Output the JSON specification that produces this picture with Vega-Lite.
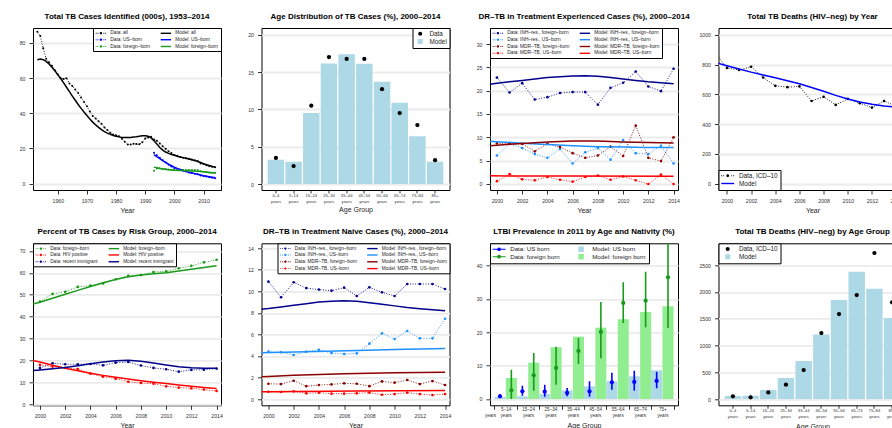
{
"$schema": "https://vega.github.io/schema/vega-lite/v6.json",
"background": "white",
"padding": {"left": 18, "top": 12, "right": 0, "bottom": 0},
"bounds": "flush",
"columns": 4,
"spacing": {"row": 53.3, "column": 40.5},
"resolve": {"scale": {"color": "independent"}, "legend": {"color": "independent"}},
"config": {
 "font": "Liberation Sans",
 "view": {"stroke": "black", "strokeWidth": 1},
 "axis": {"domain": false, "grid": false, "tickColor": "black", "tickSize": 4, "tickWidth": 0.8, "labelFont": "Liberation Sans", "labelFontSize": 5.2, "labelColor": "#333", "labelPadding": 4, "titleFont": "Liberation Sans", "titleFontSize": 7, "titleFontWeight": "normal", "titleColor": "#222", "titlePadding": 3, "labelFlush": false, "labelOverlap": false},
 "axisY": {"grid": true, "gridColor": "#ebebeb", "gridWidth": 1.8, "labelAngle": 0},
 "title": {"font": "Liberation Sans", "fontSize": 8, "fontWeight": "bold", "color": "black", "anchor": "middle", "frame": "group", "offset": 7},
 "legend": {"labelFont": "Liberation Sans", "labelColor": "#222", "strokeColor": "black", "fillColor": "white", "offset": 0, "padding": 2.5, "symbolStrokeWidth": 0, "rowPadding": 0.8, "columnPadding": 10, "labelLimit": 200}
},
"datasets": {
 "d1": [
  {"year":1953,"value":86.4,"series":"Data: all"},{"year":1954,"value":84.0,"series":"Data: all"},{"year":1955,"value":77.0,"series":"Data: all"},{"year":1956,"value":71.0,"series":"Data: all"},{"year":1957,"value":69.0,"series":"Data: all"},{"year":1958,"value":67.0,"series":"Data: all"},{"year":1959,"value":64.5,"series":"Data: all"},{"year":1960,"value":62.0,"series":"Data: all"},{"year":1961,"value":60.0,"series":"Data: all"},{"year":1962,"value":59.5,"series":"Data: all"},{"year":1963,"value":60.0,"series":"Data: all"},{"year":1964,"value":57.0,"series":"Data: all"},{"year":1965,"value":55.5,"series":"Data: all"},{"year":1966,"value":53.5,"series":"Data: all"},{"year":1967,"value":51.5,"series":"Data: all"},{"year":1968,"value":49.0,"series":"Data: all"},{"year":1969,"value":46.5,"series":"Data: all"},{"year":1970,"value":44.0,"series":"Data: all"},{"year":1971,"value":41.0,"series":"Data: all"},{"year":1972,"value":38.5,"series":"Data: all"},{"year":1973,"value":37.0,"series":"Data: all"},{"year":1974,"value":35.5,"series":"Data: all"},{"year":1975,"value":34.0,"series":"Data: all"},{"year":1976,"value":32.0,"series":"Data: all"},{"year":1977,"value":30.5,"series":"Data: all"},{"year":1978,"value":29.0,"series":"Data: all"},{"year":1979,"value":28.0,"series":"Data: all"},{"year":1980,"value":27.5,"series":"Data: all"},{"year":1981,"value":27.0,"series":"Data: all"},{"year":1982,"value":25.5,"series":"Data: all"},{"year":1983,"value":23.8,"series":"Data: all"},{"year":1984,"value":22.3,"series":"Data: all"},{"year":1985,"value":22.2,"series":"Data: all"},{"year":1986,"value":22.7,"series":"Data: all"},{"year":1987,"value":22.5,"series":"Data: all"},{"year":1988,"value":22.4,"series":"Data: all"},{"year":1989,"value":23.5,"series":"Data: all"},{"year":1990,"value":25.7,"series":"Data: all"},{"year":1991,"value":26.3,"series":"Data: all"},{"year":1992,"value":26.7,"series":"Data: all"},{"year":1993,"value":25.1,"series":"Data: all"},{"year":1994,"value":24.4,"series":"Data: all"},{"year":1995,"value":22.9,"series":"Data: all"},{"year":1996,"value":21.3,"series":"Data: all"},{"year":1997,"value":19.9,"series":"Data: all"},{"year":1998,"value":18.4,"series":"Data: all"},{"year":1999,"value":17.5,"series":"Data: all"},{"year":2000,"value":16.3,"series":"Data: all"},{"year":2001,"value":15.9,"series":"Data: all"},{"year":2002,"value":15.1,"series":"Data: all"},{"year":2003,"value":14.8,"series":"Data: all"},{"year":2004,"value":14.5,"series":"Data: all"},{"year":2005,"value":14.1,"series":"Data: all"},{"year":2006,"value":13.7,"series":"Data: all"},{"year":2007,"value":13.3,"series":"Data: all"},{"year":2008,"value":12.9,"series":"Data: all"},{"year":2009,"value":11.5,"series":"Data: all"},{"year":2010,"value":11.2,"series":"Data: all"},{"year":2011,"value":10.5,"series":"Data: all"},{"year":2012,"value":9.9,"series":"Data: all"},{"year":2013,"value":9.6,"series":"Data: all"},{"year":2014,"value":9.4,"series":"Data: all"},
  {"year":1953,"value":70.5,"series":"Model: all"},{"year":1954,"value":70.8,"series":"Model: all"},{"year":1955,"value":70.5,"series":"Model: all"},{"year":1956,"value":69.5,"series":"Model: all"},{"year":1957,"value":68.0,"series":"Model: all"},{"year":1958,"value":66.2,"series":"Model: all"},{"year":1959,"value":64.2,"series":"Model: all"},{"year":1960,"value":62.0,"series":"Model: all"},{"year":1961,"value":59.8,"series":"Model: all"},{"year":1962,"value":57.3,"series":"Model: all"},{"year":1963,"value":54.8,"series":"Model: all"},{"year":1964,"value":52.3,"series":"Model: all"},{"year":1965,"value":49.8,"series":"Model: all"},{"year":1966,"value":47.4,"series":"Model: all"},{"year":1967,"value":45.0,"series":"Model: all"},{"year":1968,"value":42.8,"series":"Model: all"},{"year":1969,"value":40.7,"series":"Model: all"},{"year":1970,"value":38.7,"series":"Model: all"},{"year":1971,"value":36.8,"series":"Model: all"},{"year":1972,"value":35.0,"series":"Model: all"},{"year":1973,"value":33.4,"series":"Model: all"},{"year":1974,"value":32.0,"series":"Model: all"},{"year":1975,"value":30.7,"series":"Model: all"},{"year":1976,"value":29.6,"series":"Model: all"},{"year":1977,"value":28.7,"series":"Model: all"},{"year":1978,"value":28.0,"series":"Model: all"},{"year":1979,"value":27.4,"series":"Model: all"},{"year":1980,"value":27.0,"series":"Model: all"},{"year":1981,"value":26.6,"series":"Model: all"},{"year":1982,"value":26.3,"series":"Model: all"},{"year":1983,"value":26.2,"series":"Model: all"},{"year":1984,"value":26.2,"series":"Model: all"},{"year":1985,"value":26.3,"series":"Model: all"},{"year":1986,"value":26.5,"series":"Model: all"},{"year":1987,"value":26.7,"series":"Model: all"},{"year":1988,"value":27.0,"series":"Model: all"},{"year":1989,"value":27.2,"series":"Model: all"},{"year":1990,"value":27.3,"series":"Model: all"},{"year":1991,"value":27.0,"series":"Model: all"},{"year":1992,"value":26.0,"series":"Model: all"},{"year":1993,"value":24.4,"series":"Model: all"},{"year":1994,"value":22.5,"series":"Model: all"},{"year":1995,"value":20.6,"series":"Model: all"},{"year":1996,"value":19.1,"series":"Model: all"},{"year":1997,"value":18.0,"series":"Model: all"},{"year":1998,"value":17.2,"series":"Model: all"},{"year":1999,"value":16.6,"series":"Model: all"},{"year":2000,"value":16.1,"series":"Model: all"},{"year":2001,"value":15.6,"series":"Model: all"},{"year":2002,"value":15.2,"series":"Model: all"},{"year":2003,"value":14.8,"series":"Model: all"},{"year":2004,"value":14.4,"series":"Model: all"},{"year":2005,"value":14.0,"series":"Model: all"},{"year":2006,"value":13.6,"series":"Model: all"},{"year":2007,"value":13.1,"series":"Model: all"},{"year":2008,"value":12.6,"series":"Model: all"},{"year":2009,"value":12.0,"series":"Model: all"},{"year":2010,"value":11.4,"series":"Model: all"},{"year":2011,"value":10.8,"series":"Model: all"},{"year":2012,"value":10.3,"series":"Model: all"},{"year":2013,"value":9.8,"series":"Model: all"},{"year":2014,"value":9.4,"series":"Model: all"},
  {"year":1993,"value":17.6,"series":"Data: US–born"},{"year":1994,"value":16.2,"series":"Data: US–born"},{"year":1995,"value":14.7,"series":"Data: US–born"},{"year":1996,"value":13.3,"series":"Data: US–born"},{"year":1997,"value":12.0,"series":"Data: US–born"},{"year":1998,"value":10.8,"series":"Data: US–born"},{"year":1999,"value":9.7,"series":"Data: US–born"},{"year":2000,"value":8.8,"series":"Data: US–born"},{"year":2001,"value":8.3,"series":"Data: US–born"},{"year":2002,"value":7.7,"series":"Data: US–born"},{"year":2003,"value":7.3,"series":"Data: US–born"},{"year":2004,"value":6.9,"series":"Data: US–born"},{"year":2005,"value":6.4,"series":"Data: US–born"},{"year":2006,"value":6.0,"series":"Data: US–born"},{"year":2007,"value":5.6,"series":"Data: US–born"},{"year":2008,"value":5.3,"series":"Data: US–born"},{"year":2009,"value":4.7,"series":"Data: US–born"},{"year":2010,"value":4.4,"series":"Data: US–born"},{"year":2011,"value":4.1,"series":"Data: US–born"},{"year":2012,"value":3.7,"series":"Data: US–born"},{"year":2013,"value":3.4,"series":"Data: US–born"},{"year":2014,"value":3.1,"series":"Data: US–born"},
  {"year":1993,"value":16.5,"series":"Model: US–born"},{"year":1994,"value":15.3,"series":"Model: US–born"},{"year":1995,"value":14.2,"series":"Model: US–born"},{"year":1996,"value":13.1,"series":"Model: US–born"},{"year":1997,"value":12.1,"series":"Model: US–born"},{"year":1998,"value":11.1,"series":"Model: US–born"},{"year":1999,"value":10.2,"series":"Model: US–born"},{"year":2000,"value":9.4,"series":"Model: US–born"},{"year":2001,"value":8.7,"series":"Model: US–born"},{"year":2002,"value":8.1,"series":"Model: US–born"},{"year":2003,"value":7.5,"series":"Model: US–born"},{"year":2004,"value":7.0,"series":"Model: US–born"},{"year":2005,"value":6.5,"series":"Model: US–born"},{"year":2006,"value":6.1,"series":"Model: US–born"},{"year":2007,"value":5.7,"series":"Model: US–born"},{"year":2008,"value":5.3,"series":"Model: US–born"},{"year":2009,"value":4.9,"series":"Model: US–born"},{"year":2010,"value":4.5,"series":"Model: US–born"},{"year":2011,"value":4.2,"series":"Model: US–born"},{"year":2012,"value":3.9,"series":"Model: US–born"},{"year":2013,"value":3.6,"series":"Model: US–born"},{"year":2014,"value":3.3,"series":"Model: US–born"},
  {"year":1993,"value":7.4,"series":"Data: foreign–born"},{"year":1994,"value":8.6,"series":"Data: foreign–born"},{"year":1995,"value":8.7,"series":"Data: foreign–born"},{"year":1996,"value":8.5,"series":"Data: foreign–born"},{"year":1997,"value":8.3,"series":"Data: foreign–born"},{"year":1998,"value":8.0,"series":"Data: foreign–born"},{"year":1999,"value":7.9,"series":"Data: foreign–born"},{"year":2000,"value":7.8,"series":"Data: foreign–born"},{"year":2001,"value":7.8,"series":"Data: foreign–born"},{"year":2002,"value":7.6,"series":"Data: foreign–born"},{"year":2003,"value":7.7,"series":"Data: foreign–born"},{"year":2004,"value":7.7,"series":"Data: foreign–born"},{"year":2005,"value":7.8,"series":"Data: foreign–born"},{"year":2006,"value":7.8,"series":"Data: foreign–born"},{"year":2007,"value":7.7,"series":"Data: foreign–born"},{"year":2008,"value":7.6,"series":"Data: foreign–born"},{"year":2009,"value":7.0,"series":"Data: foreign–born"},{"year":2010,"value":6.8,"series":"Data: foreign–born"},{"year":2011,"value":6.6,"series":"Data: foreign–born"},{"year":2012,"value":6.3,"series":"Data: foreign–born"},{"year":2013,"value":6.2,"series":"Data: foreign–born"},{"year":2014,"value":6.2,"series":"Data: foreign–born"},
  {"year":1993,"value":9.4,"series":"Model: foreign–born"},{"year":1994,"value":9.0,"series":"Model: foreign–born"},{"year":1995,"value":8.6,"series":"Model: foreign–born"},{"year":1996,"value":8.3,"series":"Model: foreign–born"},{"year":1997,"value":8.1,"series":"Model: foreign–born"},{"year":1998,"value":7.9,"series":"Model: foreign–born"},{"year":1999,"value":7.8,"series":"Model: foreign–born"},{"year":2000,"value":7.6,"series":"Model: foreign–born"},{"year":2002,"value":7.45,"series":"Model: foreign–born"},{"year":2004,"value":7.35,"series":"Model: foreign–born"},{"year":2006,"value":7.25,"series":"Model: foreign–born"},{"year":2008,"value":7.05,"series":"Model: foreign–born"},{"year":2010,"value":6.75,"series":"Model: foreign–born"},{"year":2012,"value":6.4,"series":"Model: foreign–born"},{"year":2014,"value":6.1,"series":"Model: foreign–born"}
 ],
 "d2": [
  {"age":"0–4","model":3.26,"data":3.5},{"age":"5–14","model":3.0,"data":2.4},{"age":"15–24","model":9.5,"data":10.5},{"age":"25–34","model":16.15,"data":17.0},{"age":"35–44","model":17.4,"data":16.75},{"age":"45–54","model":16.1,"data":16.75},{"age":"55–64","model":13.7,"data":12.7},{"age":"65–74","model":10.9,"data":9.5},{"age":"75–84","model":6.4,"data":7.9},{"age":"85+","model":3.0,"data":3.2}
 ],
 "d3": [
  {"year":2000,"value":22.8,"series":"Data: INH–res., foreign–born"},{"year":2001,"value":19.6,"series":"Data: INH–res., foreign–born"},{"year":2002,"value":21.6,"series":"Data: INH–res., foreign–born"},{"year":2003,"value":18.1,"series":"Data: INH–res., foreign–born"},{"year":2004,"value":18.6,"series":"Data: INH–res., foreign–born"},{"year":2005,"value":19.5,"series":"Data: INH–res., foreign–born"},{"year":2006,"value":19.7,"series":"Data: INH–res., foreign–born"},{"year":2007,"value":19.7,"series":"Data: INH–res., foreign–born"},{"year":2008,"value":17.0,"series":"Data: INH–res., foreign–born"},{"year":2009,"value":20.6,"series":"Data: INH–res., foreign–born"},{"year":2010,"value":21.7,"series":"Data: INH–res., foreign–born"},{"year":2011,"value":24.1,"series":"Data: INH–res., foreign–born"},{"year":2012,"value":20.9,"series":"Data: INH–res., foreign–born"},{"year":2013,"value":19.9,"series":"Data: INH–res., foreign–born"},{"year":2014,"value":24.7,"series":"Data: INH–res., foreign–born"},
  {"year":2000,"value":6.1,"series":"Data: INH–res., US–born"},{"year":2001,"value":8.6,"series":"Data: INH–res., US–born"},{"year":2002,"value":7.7,"series":"Data: INH–res., US–born"},{"year":2003,"value":6.4,"series":"Data: INH–res., US–born"},{"year":2004,"value":5.6,"series":"Data: INH–res., US–born"},{"year":2005,"value":7.5,"series":"Data: INH–res., US–born"},{"year":2006,"value":4.4,"series":"Data: INH–res., US–born"},{"year":2007,"value":6.8,"series":"Data: INH–res., US–born"},{"year":2008,"value":7.7,"series":"Data: INH–res., US–born"},{"year":2009,"value":5.2,"series":"Data: INH–res., US–born"},{"year":2010,"value":9.4,"series":"Data: INH–res., US–born"},{"year":2011,"value":6.6,"series":"Data: INH–res., US–born"},{"year":2012,"value":6.4,"series":"Data: INH–res., US–born"},{"year":2013,"value":8.2,"series":"Data: INH–res., US–born"},{"year":2014,"value":4.4,"series":"Data: INH–res., US–born"},
  {"year":2000,"value":8.7,"series":"Data: MDR–TB, foreign–born"},{"year":2001,"value":8.6,"series":"Data: MDR–TB, foreign–born"},{"year":2002,"value":8.6,"series":"Data: MDR–TB, foreign–born"},{"year":2003,"value":7.0,"series":"Data: MDR–TB, foreign–born"},{"year":2004,"value":8.6,"series":"Data: MDR–TB, foreign–born"},{"year":2005,"value":7.9,"series":"Data: MDR–TB, foreign–born"},{"year":2006,"value":6.6,"series":"Data: MDR–TB, foreign–born"},{"year":2007,"value":5.6,"series":"Data: MDR–TB, foreign–born"},{"year":2008,"value":6.1,"series":"Data: MDR–TB, foreign–born"},{"year":2009,"value":8.0,"series":"Data: MDR–TB, foreign–born"},{"year":2010,"value":6.0,"series":"Data: MDR–TB, foreign–born"},{"year":2011,"value":12.5,"series":"Data: MDR–TB, foreign–born"},{"year":2012,"value":5.6,"series":"Data: MDR–TB, foreign–born"},{"year":2013,"value":4.9,"series":"Data: MDR–TB, foreign–born"},{"year":2014,"value":10.0,"series":"Data: MDR–TB, foreign–born"},
  {"year":2000,"value":0.6,"series":"Data: MDR–TB, US–born"},{"year":2001,"value":2.1,"series":"Data: MDR–TB, US–born"},{"year":2002,"value":1.0,"series":"Data: MDR–TB, US–born"},{"year":2003,"value":0.8,"series":"Data: MDR–TB, US–born"},{"year":2004,"value":1.5,"series":"Data: MDR–TB, US–born"},{"year":2005,"value":0.9,"series":"Data: MDR–TB, US–born"},{"year":2006,"value":0.5,"series":"Data: MDR–TB, US–born"},{"year":2007,"value":1.5,"series":"Data: MDR–TB, US–born"},{"year":2008,"value":1.8,"series":"Data: MDR–TB, US–born"},{"year":2009,"value":0.9,"series":"Data: MDR–TB, US–born"},{"year":2010,"value":1.6,"series":"Data: MDR–TB, US–born"},{"year":2011,"value":0.8,"series":"Data: MDR–TB, US–born"},{"year":2012,"value":0.0,"series":"Data: MDR–TB, US–born"},{"year":2013,"value":2.0,"series":"Data: MDR–TB, US–born"},{"year":2014,"value":0.0,"series":"Data: MDR–TB, US–born"},
  {"year":1999,"value":21.2,"series":"Model: INH–res., foreign–born"},{"year":2000,"value":21.6,"series":"Model: INH–res., foreign–born"},{"year":2001,"value":21.9,"series":"Model: INH–res., foreign–born"},{"year":2002,"value":22.2,"series":"Model: INH–res., foreign–born"},{"year":2003,"value":22.5,"series":"Model: INH–res., foreign–born"},{"year":2004,"value":22.8,"series":"Model: INH–res., foreign–born"},{"year":2005,"value":23.0,"series":"Model: INH–res., foreign–born"},{"year":2006,"value":23.15,"series":"Model: INH–res., foreign–born"},{"year":2007,"value":23.2,"series":"Model: INH–res., foreign–born"},{"year":2008,"value":23.1,"series":"Model: INH–res., foreign–born"},{"year":2009,"value":22.8,"series":"Model: INH–res., foreign–born"},{"year":2010,"value":22.5,"series":"Model: INH–res., foreign–born"},{"year":2011,"value":22.2,"series":"Model: INH–res., foreign–born"},{"year":2012,"value":21.9,"series":"Model: INH–res., foreign–born"},{"year":2013,"value":21.7,"series":"Model: INH–res., foreign–born"},{"year":2014,"value":21.5,"series":"Model: INH–res., foreign–born"},
  {"year":1999,"value":9.2,"series":"Model: INH–res., US–born"},{"year":2000,"value":9.05,"series":"Model: INH–res., US–born"},{"year":2002,"value":8.75,"series":"Model: INH–res., US–born"},{"year":2004,"value":8.45,"series":"Model: INH–res., US–born"},{"year":2006,"value":8.2,"series":"Model: INH–res., US–born"},{"year":2008,"value":8.0,"series":"Model: INH–res., US–born"},{"year":2010,"value":7.9,"series":"Model: INH–res., US–born"},{"year":2012,"value":7.8,"series":"Model: INH–res., US–born"},{"year":2014,"value":7.8,"series":"Model: INH–res., US–born"},
  {"year":1999,"value":8.1,"series":"Model: MDR–TB, foreign–born"},{"year":2000,"value":8.3,"series":"Model: MDR–TB, foreign–born"},{"year":2001,"value":8.5,"series":"Model: MDR–TB, foreign–born"},{"year":2002,"value":8.7,"series":"Model: MDR–TB, foreign–born"},{"year":2003,"value":8.85,"series":"Model: MDR–TB, foreign–born"},{"year":2004,"value":9.0,"series":"Model: MDR–TB, foreign–born"},{"year":2005,"value":9.1,"series":"Model: MDR–TB, foreign–born"},{"year":2006,"value":9.2,"series":"Model: MDR–TB, foreign–born"},{"year":2007,"value":9.2,"series":"Model: MDR–TB, foreign–born"},{"year":2008,"value":9.2,"series":"Model: MDR–TB, foreign–born"},{"year":2009,"value":9.1,"series":"Model: MDR–TB, foreign–born"},{"year":2010,"value":9.0,"series":"Model: MDR–TB, foreign–born"},{"year":2011,"value":8.95,"series":"Model: MDR–TB, foreign–born"},{"year":2012,"value":8.9,"series":"Model: MDR–TB, foreign–born"},{"year":2013,"value":8.85,"series":"Model: MDR–TB, foreign–born"},{"year":2014,"value":8.8,"series":"Model: MDR–TB, foreign–born"},
  {"year":1999,"value":1.75,"series":"Model: MDR–TB, US–born"},{"year":2006,"value":1.7,"series":"Model: MDR–TB, US–born"},{"year":2014,"value":1.65,"series":"Model: MDR–TB, US–born"}
 ],
 "d4": [
  {"year":1999,"value":880,"series":"Data, ICD–10"},{"year":2000,"value":777,"series":"Data, ICD–10"},{"year":2001,"value":763,"series":"Data, ICD–10"},{"year":2002,"value":785,"series":"Data, ICD–10"},{"year":2003,"value":713,"series":"Data, ICD–10"},{"year":2004,"value":657,"series":"Data, ICD–10"},{"year":2005,"value":648,"series":"Data, ICD–10"},{"year":2006,"value":653,"series":"Data, ICD–10"},{"year":2007,"value":555,"series":"Data, ICD–10"},{"year":2008,"value":584,"series":"Data, ICD–10"},{"year":2009,"value":529,"series":"Data, ICD–10"},{"year":2010,"value":569,"series":"Data, ICD–10"},{"year":2011,"value":540,"series":"Data, ICD–10"},{"year":2012,"value":511,"series":"Data, ICD–10"},{"year":2013,"value":555,"series":"Data, ICD–10"},{"year":2014,"value":520,"series":"Data, ICD–10"},
  {"year":1999,"value":815,"series":"Model"},{"year":2000,"value":792,"series":"Model"},{"year":2001,"value":770,"series":"Model"},{"year":2002,"value":749,"series":"Model"},{"year":2003,"value":730,"series":"Model"},{"year":2004,"value":711,"series":"Model"},{"year":2005,"value":691,"series":"Model"},{"year":2006,"value":671,"series":"Model"},{"year":2007,"value":646,"series":"Model"},{"year":2008,"value":620,"series":"Model"},{"year":2009,"value":593,"series":"Model"},{"year":2010,"value":569,"series":"Model"},{"year":2011,"value":549,"series":"Model"},{"year":2012,"value":533,"series":"Model"},{"year":2013,"value":522,"series":"Model"},{"year":2014,"value":515,"series":"Model"}
 ],
 "d5": [
  {"year":2000,"value":46.9,"series":"Data: foreign–born"},{"year":2001,"value":50.4,"series":"Data: foreign–born"},{"year":2002,"value":51.4,"series":"Data: foreign–born"},{"year":2003,"value":53.6,"series":"Data: foreign–born"},{"year":2004,"value":54.2,"series":"Data: foreign–born"},{"year":2005,"value":55.1,"series":"Data: foreign–born"},{"year":2006,"value":57.1,"series":"Data: foreign–born"},{"year":2007,"value":58.6,"series":"Data: foreign–born"},{"year":2008,"value":59.0,"series":"Data: foreign–born"},{"year":2009,"value":60.4,"series":"Data: foreign–born"},{"year":2010,"value":60.7,"series":"Data: foreign–born"},{"year":2011,"value":62.1,"series":"Data: foreign–born"},{"year":2012,"value":63.2,"series":"Data: foreign–born"},{"year":2013,"value":64.8,"series":"Data: foreign–born"},{"year":2014,"value":66.0,"series":"Data: foreign–born"},
  {"year":2000,"value":18.0,"series":"Data: HIV positive"},{"year":2001,"value":17.2,"series":"Data: HIV positive"},{"year":2002,"value":16.7,"series":"Data: HIV positive"},{"year":2003,"value":16.1,"series":"Data: HIV positive"},{"year":2004,"value":14.0,"series":"Data: HIV positive"},{"year":2005,"value":12.6,"series":"Data: HIV positive"},{"year":2006,"value":11.7,"series":"Data: HIV positive"},{"year":2007,"value":10.3,"series":"Data: HIV positive"},{"year":2008,"value":9.7,"series":"Data: HIV positive"},{"year":2009,"value":9.4,"series":"Data: HIV positive"},{"year":2010,"value":8.2,"series":"Data: HIV positive"},{"year":2011,"value":7.6,"series":"Data: HIV positive"},{"year":2012,"value":7.3,"series":"Data: HIV positive"},{"year":2013,"value":6.7,"series":"Data: HIV positive"},{"year":2014,"value":6.1,"series":"Data: HIV positive"},
  {"year":2000,"value":16.6,"series":"Data: recent immigrant"},{"year":2001,"value":18.7,"series":"Data: recent immigrant"},{"year":2002,"value":18.3,"series":"Data: recent immigrant"},{"year":2003,"value":18.3,"series":"Data: recent immigrant"},{"year":2004,"value":18.4,"series":"Data: recent immigrant"},{"year":2005,"value":17.8,"series":"Data: recent immigrant"},{"year":2006,"value":19.0,"series":"Data: recent immigrant"},{"year":2007,"value":19.3,"series":"Data: recent immigrant"},{"year":2008,"value":17.7,"series":"Data: recent immigrant"},{"year":2009,"value":16.6,"series":"Data: recent immigrant"},{"year":2010,"value":16.0,"series":"Data: recent immigrant"},{"year":2011,"value":14.9,"series":"Data: recent immigrant"},{"year":2012,"value":15.7,"series":"Data: recent immigrant"},{"year":2013,"value":15.8,"series":"Data: recent immigrant"},{"year":2014,"value":16.3,"series":"Data: recent immigrant"},
  {"year":1999,"value":45.2,"series":"Model: foreign–born"},{"year":2000,"value":46.6,"series":"Model: foreign–born"},{"year":2001,"value":48.4,"series":"Model: foreign–born"},{"year":2002,"value":50.2,"series":"Model: foreign–born"},{"year":2003,"value":52.0,"series":"Model: foreign–born"},{"year":2004,"value":53.8,"series":"Model: foreign–born"},{"year":2005,"value":55.5,"series":"Model: foreign–born"},{"year":2006,"value":57.0,"series":"Model: foreign–born"},{"year":2007,"value":58.2,"series":"Model: foreign–born"},{"year":2008,"value":59.0,"series":"Model: foreign–born"},{"year":2009,"value":59.6,"series":"Model: foreign–born"},{"year":2010,"value":60.1,"series":"Model: foreign–born"},{"year":2011,"value":60.8,"series":"Model: foreign–born"},{"year":2012,"value":61.6,"series":"Model: foreign–born"},{"year":2013,"value":62.4,"series":"Model: foreign–born"},{"year":2014,"value":63.3,"series":"Model: foreign–born"},
  {"year":1999,"value":20.5,"series":"Model: HIV positive"},{"year":2000,"value":19.3,"series":"Model: HIV positive"},{"year":2001,"value":17.8,"series":"Model: HIV positive"},{"year":2002,"value":16.5,"series":"Model: HIV positive"},{"year":2003,"value":15.3,"series":"Model: HIV positive"},{"year":2004,"value":14.2,"series":"Model: HIV positive"},{"year":2005,"value":13.2,"series":"Model: HIV positive"},{"year":2006,"value":12.3,"series":"Model: HIV positive"},{"year":2007,"value":11.5,"series":"Model: HIV positive"},{"year":2008,"value":10.8,"series":"Model: HIV positive"},{"year":2009,"value":10.1,"series":"Model: HIV positive"},{"year":2010,"value":9.5,"series":"Model: HIV positive"},{"year":2011,"value":8.8,"series":"Model: HIV positive"},{"year":2012,"value":8.2,"series":"Model: HIV positive"},{"year":2013,"value":7.7,"series":"Model: HIV positive"},{"year":2014,"value":7.2,"series":"Model: HIV positive"},
  {"year":1999,"value":15.3,"series":"Model: recent immigrant"},{"year":2000,"value":15.7,"series":"Model: recent immigrant"},{"year":2001,"value":16.2,"series":"Model: recent immigrant"},{"year":2002,"value":16.8,"series":"Model: recent immigrant"},{"year":2003,"value":17.6,"series":"Model: recent immigrant"},{"year":2004,"value":18.5,"series":"Model: recent immigrant"},{"year":2005,"value":19.3,"series":"Model: recent immigrant"},{"year":2006,"value":19.9,"series":"Model: recent immigrant"},{"year":2007,"value":20.1,"series":"Model: recent immigrant"},{"year":2008,"value":19.6,"series":"Model: recent immigrant"},{"year":2009,"value":18.8,"series":"Model: recent immigrant"},{"year":2010,"value":17.9,"series":"Model: recent immigrant"},{"year":2011,"value":17.1,"series":"Model: recent immigrant"},{"year":2012,"value":16.7,"series":"Model: recent immigrant"},{"year":2013,"value":16.5,"series":"Model: recent immigrant"},{"year":2014,"value":16.4,"series":"Model: recent immigrant"}
 ],
 "d6": [
  {"year":2000,"value":10.9,"series":"Data: INH–res., foreign–born"},{"year":2001,"value":9.45,"series":"Data: INH–res., foreign–born"},{"year":2002,"value":10.84,"series":"Data: INH–res., foreign–born"},{"year":2003,"value":10.3,"series":"Data: INH–res., foreign–born"},{"year":2004,"value":10.16,"series":"Data: INH–res., foreign–born"},{"year":2005,"value":10.06,"series":"Data: INH–res., foreign–born"},{"year":2006,"value":10.34,"series":"Data: INH–res., foreign–born"},{"year":2007,"value":9.57,"series":"Data: INH–res., foreign–born"},{"year":2008,"value":10.37,"series":"Data: INH–res., foreign–born"},{"year":2009,"value":9.91,"series":"Data: INH–res., foreign–born"},{"year":2010,"value":9.57,"series":"Data: INH–res., foreign–born"},{"year":2011,"value":10.68,"series":"Data: INH–res., foreign–born"},{"year":2012,"value":10.68,"series":"Data: INH–res., foreign–born"},{"year":2013,"value":10.68,"series":"Data: INH–res., foreign–born"},{"year":2014,"value":10.22,"series":"Data: INH–res., foreign–born"},
  {"year":2000,"value":4.4,"series":"Data: INH–res., US–born"},{"year":2001,"value":4.34,"series":"Data: INH–res., US–born"},{"year":2002,"value":4.09,"series":"Data: INH–res., US–born"},{"year":2003,"value":4.4,"series":"Data: INH–res., US–born"},{"year":2004,"value":4.58,"series":"Data: INH–res., US–born"},{"year":2005,"value":4.27,"series":"Data: INH–res., US–born"},{"year":2006,"value":4.18,"series":"Data: INH–res., US–born"},{"year":2007,"value":4.24,"series":"Data: INH–res., US–born"},{"year":2008,"value":5.14,"series":"Data: INH–res., US–born"},{"year":2009,"value":6.1,"series":"Data: INH–res., US–born"},{"year":2010,"value":5.57,"series":"Data: INH–res., US–born"},{"year":2011,"value":6.32,"series":"Data: INH–res., US–born"},{"year":2012,"value":5.64,"series":"Data: INH–res., US–born"},{"year":2013,"value":5.64,"series":"Data: INH–res., US–born"},{"year":2014,"value":7.46,"series":"Data: INH–res., US–born"},
  {"year":2000,"value":1.42,"series":"Data: MDR–TB, foreign–born"},{"year":2001,"value":1.39,"series":"Data: MDR–TB, foreign–born"},{"year":2002,"value":1.7,"series":"Data: MDR–TB, foreign–born"},{"year":2003,"value":1.2,"series":"Data: MDR–TB, foreign–born"},{"year":2004,"value":1.3,"series":"Data: MDR–TB, foreign–born"},{"year":2005,"value":1.36,"series":"Data: MDR–TB, foreign–born"},{"year":2006,"value":1.46,"series":"Data: MDR–TB, foreign–born"},{"year":2007,"value":1.42,"series":"Data: MDR–TB, foreign–born"},{"year":2008,"value":1.2,"series":"Data: MDR–TB, foreign–born"},{"year":2009,"value":1.64,"series":"Data: MDR–TB, foreign–born"},{"year":2010,"value":1.52,"series":"Data: MDR–TB, foreign–born"},{"year":2011,"value":1.77,"series":"Data: MDR–TB, foreign–born"},{"year":2012,"value":1.39,"series":"Data: MDR–TB, foreign–born"},{"year":2013,"value":1.67,"series":"Data: MDR–TB, foreign–born"},{"year":2014,"value":1.3,"series":"Data: MDR–TB, foreign–born"},
  {"year":2000,"value":0.68,"series":"Data: MDR–TB, US–born"},{"year":2001,"value":0.65,"series":"Data: MDR–TB, US–born"},{"year":2002,"value":0.71,"series":"Data: MDR–TB, US–born"},{"year":2003,"value":0.53,"series":"Data: MDR–TB, US–born"},{"year":2004,"value":0.59,"series":"Data: MDR–TB, US–born"},{"year":2005,"value":0.5,"series":"Data: MDR–TB, US–born"},{"year":2006,"value":0.5,"series":"Data: MDR–TB, US–born"},{"year":2007,"value":0.53,"series":"Data: MDR–TB, US–born"},{"year":2008,"value":0.59,"series":"Data: MDR–TB, US–born"},{"year":2009,"value":0.4,"series":"Data: MDR–TB, US–born"},{"year":2010,"value":0.46,"series":"Data: MDR–TB, US–born"},{"year":2011,"value":0.59,"series":"Data: MDR–TB, US–born"},{"year":2012,"value":0.46,"series":"Data: MDR–TB, US–born"},{"year":2013,"value":0.37,"series":"Data: MDR–TB, US–born"},{"year":2014,"value":0.46,"series":"Data: MDR–TB, US–born"},
  {"year":1999,"value":8.3,"series":"Model: INH–res., foreign–born"},{"year":2000,"value":8.4,"series":"Model: INH–res., foreign–born"},{"year":2001,"value":8.55,"series":"Model: INH–res., foreign–born"},{"year":2002,"value":8.7,"series":"Model: INH–res., foreign–born"},{"year":2003,"value":8.85,"series":"Model: INH–res., foreign–born"},{"year":2004,"value":9.0,"series":"Model: INH–res., foreign–born"},{"year":2005,"value":9.08,"series":"Model: INH–res., foreign–born"},{"year":2006,"value":9.12,"series":"Model: INH–res., foreign–born"},{"year":2007,"value":9.08,"series":"Model: INH–res., foreign–born"},{"year":2008,"value":8.95,"series":"Model: INH–res., foreign–born"},{"year":2009,"value":8.8,"series":"Model: INH–res., foreign–born"},{"year":2010,"value":8.65,"series":"Model: INH–res., foreign–born"},{"year":2011,"value":8.5,"series":"Model: INH–res., foreign–born"},{"year":2012,"value":8.38,"series":"Model: INH–res., foreign–born"},{"year":2013,"value":8.28,"series":"Model: INH–res., foreign–born"},{"year":2014,"value":8.2,"series":"Model: INH–res., foreign–born"},
  {"year":1999,"value":4.3,"series":"Model: INH–res., US–born"},{"year":2003,"value":4.4,"series":"Model: INH–res., US–born"},{"year":2007,"value":4.5,"series":"Model: INH–res., US–born"},{"year":2010,"value":4.6,"series":"Model: INH–res., US–born"},{"year":2014,"value":4.7,"series":"Model: INH–res., US–born"},
  {"year":1999,"value":2.05,"series":"Model: MDR–TB, foreign–born"},{"year":2000,"value":2.1,"series":"Model: MDR–TB, foreign–born"},{"year":2002,"value":2.2,"series":"Model: MDR–TB, foreign–born"},{"year":2004,"value":2.28,"series":"Model: MDR–TB, foreign–born"},{"year":2006,"value":2.35,"series":"Model: MDR–TB, foreign–born"},{"year":2008,"value":2.4,"series":"Model: MDR–TB, foreign–born"},{"year":2010,"value":2.44,"series":"Model: MDR–TB, foreign–born"},{"year":2012,"value":2.47,"series":"Model: MDR–TB, foreign–born"},{"year":2014,"value":2.48,"series":"Model: MDR–TB, foreign–born"},
  {"year":1999,"value":0.67,"series":"Model: MDR–TB, US–born"},{"year":2000,"value":0.68,"series":"Model: MDR–TB, US–born"},{"year":2007,"value":0.75,"series":"Model: MDR–TB, US–born"},{"year":2014,"value":0.8,"series":"Model: MDR–TB, US–born"}
 ],
 "d7": [
  {"age":"5–14","nat":"US born","mseries":"Model: US born","dseries":"Data: US born","model":0.6,"data":0.8,"lo":0.3,"hi":1.5},
  {"age":"5–14","nat":"foreign born","mseries":"Model: foreign born","dseries":"Data: foreign born","model":6.3,"data":2.6,"lo":0.0,"hi":8.8},
  {"age":"15–24","nat":"US born","mseries":"Model: US born","dseries":"Data: US born","model":0.8,"data":2.3,"lo":1.0,"hi":4.0},
  {"age":"15–24","nat":"foreign born","mseries":"Model: foreign born","dseries":"Data: foreign born","model":10.9,"data":7.1,"lo":2.5,"hi":13.8},
  {"age":"25–34","nat":"US born","mseries":"Model: US born","dseries":"Data: US born","model":1.5,"data":2.2,"lo":0.7,"hi":4.3},
  {"age":"25–34","nat":"foreign born","mseries":"Model: foreign born","dseries":"Data: foreign born","model":15.5,"data":9.3,"lo":4.3,"hi":15.7},
  {"age":"35–44","nat":"US born","mseries":"Model: US born","dseries":"Data: US born","model":2.6,"data":1.8,"lo":0.8,"hi":3.3},
  {"age":"35–44","nat":"foreign born","mseries":"Model: foreign born","dseries":"Data: foreign born","model":18.7,"data":14.4,"lo":10.5,"hi":18.3},
  {"age":"45–54","nat":"US born","mseries":"Model: US born","dseries":"Data: US born","model":3.8,"data":2.3,"lo":0.7,"hi":5.3},
  {"age":"45–54","nat":"foreign born","mseries":"Model: foreign born","dseries":"Data: foreign born","model":21.4,"data":20.1,"lo":12.2,"hi":29.1},
  {"age":"55–64","nat":"US born","mseries":"Model: US born","dseries":"Data: US born","model":5.3,"data":5.0,"lo":2.8,"hi":7.9},
  {"age":"55–64","nat":"foreign born","mseries":"Model: foreign born","dseries":"Data: foreign born","model":23.9,"data":28.8,"lo":22.8,"hi":35.0},
  {"age":"65–74","nat":"US born","mseries":"Model: US born","dseries":"Data: US born","model":6.8,"data":5.1,"lo":2.5,"hi":8.5},
  {"age":"65–74","nat":"foreign born","mseries":"Model: foreign born","dseries":"Data: foreign born","model":26.1,"data":29.5,"lo":21.5,"hi":38.2},
  {"age":"75+","nat":"US born","mseries":"Model: US born","dseries":"Data: US born","model":8.6,"data":5.4,"lo":3.2,"hi":8.2},
  {"age":"75+","nat":"foreign born","mseries":"Model: foreign born","dseries":"Data: foreign born","model":27.8,"data":36.5,"lo":21.3,"hi":49.0}
 ],
 "d8": [
  {"age":"0–4","model":56,"data":50},{"age":"5–14","model":62,"data":31},{"age":"15–24","model":168,"data":124},{"age":"25–34","model":392,"data":267},{"age":"35–44","model":709,"data":541},{"age":"45–54","model":1206,"data":1231},{"age":"55–64","model":1847,"data":1586},{"age":"65–74","model":2376,"data":1940},{"age":"75–84","model":2058,"data":2724},{"age":"85+","model":1511,"data":1803}
 ]
},
"concat": [
 {
  "name": "p1", "width": 188, "height": 162,
  "title": "Total TB Cases Identified (000s), 1953–2014",
  "data": {"name": "d1"},
  "encoding": {
   "x": {"field": "year", "type": "quantitative", "scale": {"domain": [1951.5, 2016], "nice": false, "zero": false}, "axis": {"values": [1960,1970,1980,1990,2000,2010], "format": "d", "title": "Year"}},
   "y": {"field": "value", "type": "quantitative", "scale": {"domain": [-3.6, 88.5], "nice": false, "zero": false}, "axis": {"values": [0,20,40,60,80], "title": null}},
   "color": {"field": "series", "type": "nominal",
    "scale": {"domain": ["Data: all","Data: US–born","Data: foreign–born","Model: all","Model: US–born","Model: foreign–born"], "range": ["#000000","#0000ff","#1a9a1a","#000000","#0000ff","#1a9a1a"]},
    "legend": {"title": null, "orient": "top-right", "columns": 2, "labelFontSize": 4.8, "symbolSize": 16, "symbolOffset": 3, "labelOffset": 7,
     "encode": {"symbols": {"update": {"shape": {"signal": "indexof(datum.value,'Data')===0 ? 'M-2.6,-0.22h0.45v0.45h-0.45zM-1.7,-0.22h0.45v0.45h-0.45zM1.25,-0.22h0.45v0.45h-0.45zM2.15,-0.22h0.45v0.45h-0.45zM0.6,0a0.6,0.6 0 1 1 -1.2,0a0.6,0.6 0 1 1 1.2,0z' : 'M-2.6,-0.35H2.6V0.35H-2.6Z'"}, "fill": {"scale": "p1_color", "field": "value"}, "strokeWidth": {"value": 0}}}}}
   }
  },
  "layer": [
   {"transform": [{"filter": "indexof(datum.series,'Data')===0"}], "mark": {"type": "line", "strokeWidth": 0.9, "strokeDash": [1,1.6], "clip": true}, "encoding": {}},
   {"transform": [{"filter": "indexof(datum.series,'Data')===0"}], "mark": {"type": "point", "filled": true, "opacity": 1, "size": 4, "clip": true}, "encoding": {}},
   {"transform": [{"filter": "indexof(datum.series,'Model')===0"}], "mark": {"type": "line", "strokeWidth": 1.5, "clip": true}, "encoding": {}}
  ]
 },
 {
  "name": "p2", "width": 188, "height": 162,
  "title": "Age Distribution of TB Cases (%), 2000–2014",
  "data": {"name": "d2"},
  "encoding": {
   "x": {"field": "age", "type": "nominal", "sort": null, "scale": {"paddingInner": 0.07, "paddingOuter": 0.35}, "axis": {"title": "Age Group", "labelAngle": 0, "labelFontSize": 4.2, "labelLineHeight": 6.5, "labelExpr": "[datum.label, 'years']", "tickSize": 3, "labelPadding": 0, "titlePadding": 2}}
  },
  "layer": [
   {"mark": {"type": "bar"},
    "encoding": {
     "y": {"field": "model", "type": "quantitative", "scale": {"domain": [-0.8, 20.9], "nice": false, "zero": false}, "axis": {"values": [0,5,10,15,20], "title": null}},
     "y2": {"datum": 0},
     "color": {"datum": "Model", "type": "nominal", "scale": {"domain": ["Data","Model"], "range": ["#000000","#add8e6"]},
      "legend": {"title": null, "orient": "top-right", "labelFontSize": 6.4, "symbolSize": 25, "symbolOffset": 2, "labelOffset": 6,
       "encode": {"symbols": {"update": {"shape": {"signal": "datum.value==='Model' ? 'M-1,-1H1V1H-1Z' : 'M0.8,0a0.8,0.8 0 1 1 -1.6,0a0.8,0.8 0 1 1 1.6,0z'"}, "fill": {"scale": "p2_color", "field": "value"}, "strokeWidth": {"value": 0}}}}}}
    }},
   {"mark": {"type": "point", "filled": true, "opacity": 1, "size": 18},
    "encoding": {
     "y": {"field": "data", "type": "quantitative", "scale": {"domain": [-0.8, 20.9], "nice": false, "zero": false}, "axis": {"values": [0,5,10,15,20], "title": null}},
     "color": {"datum": "Data", "type": "nominal", "scale": {"domain": ["Data","Model"], "range": ["#000000","#add8e6"]}}
    }}
  ]
 },
 {
  "name": "p3", "width": 188, "height": 162,
  "title": "DR–TB in Treatment Experienced Cases (%), 2000–2014",
  "data": {"name": "d3"},
  "encoding": {
   "x": {"field": "year", "type": "quantitative", "scale": {"domain": [1999.45, 2014.35], "nice": false, "zero": false}, "axis": {"values": [2000,2002,2004,2006,2008,2010,2012,2014], "format": "d", "title": "Year"}},
   "y": {"field": "value", "type": "quantitative", "scale": {"domain": [-1.29, 33.43], "nice": false, "zero": false}, "axis": {"values": [0,5,10,15,20,25,30], "title": null}},
   "color": {"field": "series", "type": "nominal",
    "scale": {"domain": ["Data: INH–res., foreign–born","Data: INH–res., US–born","Data: MDR–TB, foreign–born","Data: MDR–TB, US–born","Model: INH–res., foreign–born","Model: INH–res., US–born","Model: MDR–TB, foreign–born","Model: MDR–TB, US–born"], "range": ["#00008b","#1e90ff","#8b0000","#ff0000","#00008b","#1e90ff","#8b0000","#ff0000"]},
    "legend": {"title": null, "orient": "top-left", "columns": 2, "labelFontSize": 4.8, "symbolSize": 16, "symbolOffset": 3, "labelOffset": 7,
     "encode": {"symbols": {"update": {"shape": {"signal": "indexof(datum.value,'Data')===0 ? 'M-2.6,-0.22h0.45v0.45h-0.45zM-1.7,-0.22h0.45v0.45h-0.45zM1.25,-0.22h0.45v0.45h-0.45zM2.15,-0.22h0.45v0.45h-0.45zM0.6,0a0.6,0.6 0 1 1 -1.2,0a0.6,0.6 0 1 1 1.2,0z' : 'M-2.6,-0.35H2.6V0.35H-2.6Z'"}, "fill": {"scale": "p3_color", "field": "value"}, "strokeWidth": {"value": 0}}}}}
   }
  },
  "layer": [
   {"transform": [{"filter": "indexof(datum.series,'Data')===0"}], "mark": {"type": "line", "strokeWidth": 0.9, "strokeDash": [1,1.6], "clip": true}, "encoding": {}},
   {"transform": [{"filter": "indexof(datum.series,'Data')===0"}], "mark": {"type": "point", "filled": true, "opacity": 1, "size": 7, "clip": true}, "encoding": {}},
   {"transform": [{"filter": "indexof(datum.series,'Model')===0"}], "mark": {"type": "line", "strokeWidth": 1.5, "clip": true}, "encoding": {}}
  ]
 },
 {
  "name": "p4", "width": 188, "height": 162,
  "title": "Total TB Deaths (HIV–neg) by Year",
  "data": {"name": "d4"},
  "encoding": {
   "x": {"field": "year", "type": "quantitative", "scale": {"domain": [1999.3, 2014.86], "nice": false, "zero": false}, "axis": {"values": [2000,2002,2004,2006,2008,2010,2012,2014], "format": "d", "title": "Year"}},
   "y": {"field": "value", "type": "quantitative", "scale": {"domain": [-42, 1045], "nice": false, "zero": false}, "axis": {"values": [0,200,400,600,800,1000], "format": "d", "title": null}},
   "color": {"field": "series", "type": "nominal",
    "scale": {"domain": ["Data, ICD–10","Model"], "range": ["#000000","#0000ff"]},
    "legend": {"title": null, "orient": "bottom-left", "labelFontSize": 6.4, "symbolSize": 25, "symbolOffset": 3.5, "labelOffset": 8,
     "encode": {"symbols": {"update": {"shape": {"signal": "indexof(datum.value,'Data')===0 ? 'M-2.6,-0.18h0.36v0.36h-0.36zM-1.8,-0.18h0.36v0.36h-0.36zM1.44,-0.18h0.36v0.36h-0.36zM2.24,-0.18h0.36v0.36h-0.36zM0.55,0a0.55,0.55 0 1 1 -1.1,0a0.55,0.55 0 1 1 1.1,0z' : 'M-2.6,-0.28H2.6V0.28H-2.6Z'"}, "fill": {"scale": "p4_color", "field": "value"}, "strokeWidth": {"value": 0}}}}}
   }
  },
  "layer": [
   {"transform": [{"filter": "indexof(datum.series,'Data')===0"}], "mark": {"type": "line", "strokeWidth": 0.9, "strokeDash": [1,1.6], "clip": true}, "encoding": {}},
   {"transform": [{"filter": "indexof(datum.series,'Data')===0"}], "mark": {"type": "point", "filled": true, "opacity": 1, "size": 7, "clip": true}, "encoding": {}},
   {"transform": [{"filter": "datum.series==='Model'"}], "mark": {"type": "line", "strokeWidth": 1.5, "clip": true}, "encoding": {}}
  ]
 },
 {
  "name": "p5", "width": 188, "height": 162,
  "title": "Percent of TB Cases by Risk Group, 2000–2014",
  "data": {"name": "d5"},
  "encoding": {
   "x": {"field": "year", "type": "quantitative", "scale": {"domain": [1999.45, 2014.35], "nice": false, "zero": false}, "axis": {"values": [2000,2002,2004,2006,2008,2010,2012,2014], "format": "d", "title": "Year"}},
   "y": {"field": "value", "type": "quantitative", "scale": {"domain": [-0.46, 73.5], "nice": false, "zero": false}, "axis": {"values": [0,10,20,30,40,50,60,70], "title": null}},
   "color": {"field": "series", "type": "nominal",
    "scale": {"domain": ["Data: foreign–born","Data: HIV positive","Data: recent immigrant","Model: foreign–born","Model: HIV positive","Model: recent immigrant"], "range": ["#1a9a1a","#ff0000","#00008b","#1a9a1a","#ff0000","#00008b"]},
    "legend": {"title": null, "orient": "top-left", "columns": 2, "labelFontSize": 4.7, "symbolSize": 16, "symbolOffset": 3, "labelOffset": 7,
     "encode": {"symbols": {"update": {"shape": {"signal": "indexof(datum.value,'Data')===0 ? 'M-2.6,-0.22h0.45v0.45h-0.45zM-1.7,-0.22h0.45v0.45h-0.45zM1.25,-0.22h0.45v0.45h-0.45zM2.15,-0.22h0.45v0.45h-0.45zM0.6,0a0.6,0.6 0 1 1 -1.2,0a0.6,0.6 0 1 1 1.2,0z' : 'M-2.6,-0.35H2.6V0.35H-2.6Z'"}, "fill": {"scale": "p5_color", "field": "value"}, "strokeWidth": {"value": 0}}}}}
   }
  },
  "layer": [
   {"transform": [{"filter": "indexof(datum.series,'Data')===0"}], "mark": {"type": "line", "strokeWidth": 0.9, "strokeDash": [1,1.6], "clip": true}, "encoding": {}},
   {"transform": [{"filter": "indexof(datum.series,'Data')===0"}], "mark": {"type": "point", "filled": true, "opacity": 1, "size": 7, "clip": true}, "encoding": {}},
   {"transform": [{"filter": "indexof(datum.series,'Model')===0"}], "mark": {"type": "line", "strokeWidth": 1.5, "clip": true}, "encoding": {}}
  ]
 },
 {
  "name": "p6", "width": 188, "height": 162,
  "title": "DR–TB in Treatment Naive Cases (%), 2000–2014",
  "data": {"name": "d6"},
  "encoding": {
   "x": {"field": "year", "type": "quantitative", "scale": {"domain": [1999.45, 2014.35], "nice": false, "zero": false}, "axis": {"values": [2000,2002,2004,2006,2008,2010,2012,2014], "format": "d", "title": "Year"}},
   "y": {"field": "value", "type": "quantitative", "scale": {"domain": [-0.58, 14.46], "nice": false, "zero": false}, "axis": {"values": [0,2,4,6,8,10,12,14], "title": null}},
   "color": {"field": "series", "type": "nominal",
    "scale": {"domain": ["Data: INH–res., foreign–born","Data: INH–res., US–born","Data: MDR–TB, foreign–born","Data: MDR–TB, US–born","Model: INH–res., foreign–born","Model: INH–res., US–born","Model: MDR–TB, foreign–born","Model: MDR–TB, US–born"], "range": ["#00008b","#1e90ff","#8b0000","#ff0000","#00008b","#1e90ff","#8b0000","#ff0000"]},
    "legend": {"title": null, "orient": "top-right", "columns": 2, "labelFontSize": 4.8, "symbolSize": 16, "symbolOffset": 3, "labelOffset": 7,
     "encode": {"symbols": {"update": {"shape": {"signal": "indexof(datum.value,'Data')===0 ? 'M-2.6,-0.22h0.45v0.45h-0.45zM-1.7,-0.22h0.45v0.45h-0.45zM1.25,-0.22h0.45v0.45h-0.45zM2.15,-0.22h0.45v0.45h-0.45zM0.6,0a0.6,0.6 0 1 1 -1.2,0a0.6,0.6 0 1 1 1.2,0z' : 'M-2.6,-0.35H2.6V0.35H-2.6Z'"}, "fill": {"scale": "p6_color", "field": "value"}, "strokeWidth": {"value": 0}}}}}
   }
  },
  "layer": [
   {"transform": [{"filter": "indexof(datum.series,'Data')===0"}], "mark": {"type": "line", "strokeWidth": 0.9, "strokeDash": [1,1.6], "clip": true}, "encoding": {}},
   {"transform": [{"filter": "indexof(datum.series,'Data')===0"}], "mark": {"type": "point", "filled": true, "opacity": 1, "size": 7, "clip": true}, "encoding": {}},
   {"transform": [{"filter": "indexof(datum.series,'Model')===0"}], "mark": {"type": "line", "strokeWidth": 1.5, "clip": true}, "encoding": {}}
  ]
 },
 {
  "name": "p7", "width": 188, "height": 162,
  "title": "LTBI Prevalence in 2011 by Age and Nativity (%)",
  "data": {"name": "d7"},
  "encoding": {
   "x": {"field": "age", "type": "nominal", "sort": null, "scale": {"paddingInner": 0, "paddingOuter": 0.2}, "axis": {"title": "Age Group", "labelAngle": 0, "labelFontSize": 4.6, "labelLineHeight": 6, "labelExpr": "[datum.label, 'years']", "tickBand": "extent", "labelPadding": -3, "titlePadding": 5}},
   "xOffset": {"field": "nat", "type": "nominal", "sort": null, "scale": {"domain": ["US born","foreign born"], "paddingInner": 0.03, "paddingOuter": 0}}
  },
  "layer": [
   {"mark": {"type": "bar"},
    "encoding": {
     "y": {"field": "model", "type": "quantitative", "scale": {"domain": [-1.9, 46.7], "nice": false, "zero": false}, "axis": {"values": [0,10,20,30,40], "title": null}},
     "y2": {"datum": 0},
     "color": {"field": "mseries", "type": "nominal", "scale": {"domain": ["Data: US born","Data: foreign born","Model: US born","Model: foreign born"], "range": ["#0000ff","#1a9a1a","#add8e6","#90ee90"]},
      "legend": {"title": null, "orient": "top-left", "columns": 2, "labelFontSize": 6.2, "symbolSize": 25, "symbolOffset": 3.5, "labelOffset": 8, "columnPadding": 14,
       "encode": {"symbols": {"update": {"shape": {"signal": "indexof(datum.value,'Data')===0 ? 'M-2.6,-0.2H2.6V0.2H-2.6ZM0.75,0a0.75,0.75 0 1 1 -1.5,0a0.75,0.75 0 1 1 1.5,0z' : 'M-1.1,-1.1H1.1V1.1H-1.1Z'"}, "fill": {"scale": "p7_color", "field": "value"}, "strokeWidth": {"value": 0}}}}}}
    }},
   {"mark": {"type": "rule", "strokeWidth": 1.6, "clip": true},
    "encoding": {
     "y": {"field": "lo", "type": "quantitative", "scale": {"domain": [-1.9, 46.7], "nice": false, "zero": false}, "axis": {"values": [0,10,20,30,40], "title": null}},
     "y2": {"field": "hi"},
     "color": {"field": "dseries", "type": "nominal", "scale": {"domain": ["Data: US born","Data: foreign born","Model: US born","Model: foreign born"], "range": ["#0000ff","#1a9a1a","#add8e6","#90ee90"]}}
    }},
   {"mark": {"type": "point", "filled": true, "opacity": 1, "size": 18, "clip": true},
    "encoding": {
     "y": {"field": "data", "type": "quantitative", "scale": {"domain": [-1.9, 46.7], "nice": false, "zero": false}, "axis": {"values": [0,10,20,30,40], "title": null}},
     "color": {"field": "dseries", "type": "nominal", "scale": {"domain": ["Data: US born","Data: foreign born","Model: US born","Model: foreign born"], "range": ["#0000ff","#1a9a1a","#add8e6","#90ee90"]}}
    }}
  ]
 },
 {
  "name": "p8", "width": 188, "height": 162,
  "title": "Total TB Deaths (HIV–neg) by Age Group",
  "data": {"name": "d8"},
  "encoding": {
   "x": {"field": "age", "type": "nominal", "sort": null, "scale": {"paddingInner": 0.07, "paddingOuter": 0.35}, "axis": {"title": "Age Group", "labelAngle": 0, "labelFontSize": 4.2, "labelLineHeight": 6.5, "labelExpr": "[datum.label, 'years']", "tickSize": 3, "labelPadding": 0, "titlePadding": 3}}
  },
  "layer": [
   {"mark": {"type": "bar"},
    "encoding": {
     "y": {"field": "model", "type": "quantitative", "scale": {"domain": [-117, 2905], "nice": false, "zero": false}, "axis": {"values": [0,500,1000,1500,2000,2500], "format": "d", "title": null}},
     "y2": {"datum": 0},
     "color": {"datum": "Model", "type": "nominal", "scale": {"domain": ["Data, ICD–10","Model"], "range": ["#000000","#add8e6"]},
      "legend": {"title": null, "orient": "top-left", "labelFontSize": 6.4, "symbolSize": 25, "symbolOffset": 3.5, "labelOffset": 8,
       "encode": {"symbols": {"update": {"shape": {"signal": "datum.value==='Model' ? 'M-1,-1H1V1H-1Z' : 'M0.8,0a0.8,0.8 0 1 1 -1.6,0a0.8,0.8 0 1 1 1.6,0z'"}, "fill": {"scale": "p8_color", "field": "value"}, "strokeWidth": {"value": 0}}}}}}
    }},
   {"mark": {"type": "point", "filled": true, "opacity": 1, "size": 18},
    "encoding": {
     "y": {"field": "data", "type": "quantitative", "scale": {"domain": [-117, 2905], "nice": false, "zero": false}, "axis": {"values": [0,500,1000,1500,2000,2500], "format": "d", "title": null}},
     "color": {"datum": "Data, ICD–10", "type": "nominal", "scale": {"domain": ["Data, ICD–10","Model"], "range": ["#000000","#add8e6"]}}
    }}
  ]
 }
]
}
